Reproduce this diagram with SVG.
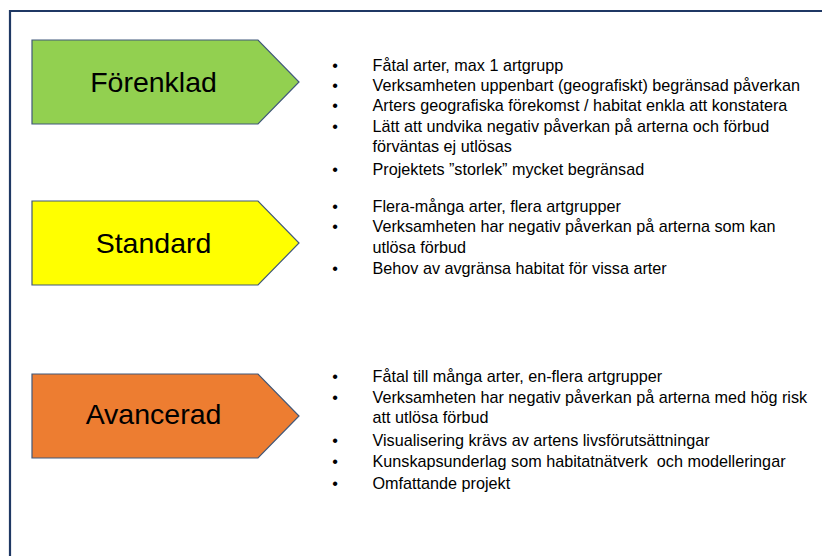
<svg xmlns="http://www.w3.org/2000/svg" width="822" height="556" viewBox="0 0 822 556">
<style>
.frame{fill:none;stroke:#1f3864;stroke-width:2.2}
.arrow{stroke:#41587a;stroke-width:1.2}
.label{font-family:"Liberation Sans",Arial,sans-serif;font-size:28.5px;fill:#000;text-anchor:middle}
.item{font-family:"Liberation Sans",Arial,sans-serif;font-size:16.2px;fill:#000;white-space:pre}
.bul{font-family:"Liberation Sans",Arial,sans-serif;font-size:16.2px;fill:#000;text-anchor:middle}
</style>
<rect width="822" height="556" fill="#fff"/>
<path class="frame" d="M10,560 V11 H830"/>
<g id="forenklad">
<polygon class="arrow" fill="#92d050" points="32,40 258,40 299,82 258,124 32,124"/>
<text class="label" x="153.5" y="92">Förenklad</text>
</g>
<g id="forenklad-list">
<text class="bul" x="335" y="71">•</text><text class="item" x="372.5" y="71">Fåtal arter, max 1 artgrupp</text>
<text class="bul" x="335" y="91">•</text><text class="item" x="372.5" y="91">Verksamheten uppenbart (geografiskt) begränsad påverkan</text>
<text class="bul" x="335" y="111">•</text><text class="item" x="372.5" y="111">Arters geografiska förekomst / habitat enkla att konstatera</text>
<text class="bul" x="335" y="132">•</text><text class="item" x="372.5" y="132">Lätt att undvika negativ påverkan på arterna och förbud</text>
<text class="item" x="372.5" y="152">förväntas ej utlösas</text>
<text class="bul" x="335" y="175">•</text><text class="item" x="372.5" y="175">Projektets ”storlek” mycket begränsad</text>
</g>
<g id="standard">
<polygon class="arrow" fill="#ffff00" points="32,201 258,201 299,243 258,285 32,285"/>
<text class="label" x="153.5" y="253">Standard</text>
</g>
<g id="standard-list">
<text class="bul" x="335" y="212">•</text><text class="item" x="372.5" y="212">Flera-många arter, flera artgrupper</text>
<text class="bul" x="335" y="232">•</text><text class="item" x="372.5" y="232">Verksamheten har negativ påverkan på arterna som kan</text>
<text class="item" x="372.5" y="253">utlösa förbud</text>
<text class="bul" x="335" y="274">•</text><text class="item" x="372.5" y="274">Behov av avgränsa habitat för vissa arter</text>
</g>
<g id="avancerad">
<polygon class="arrow" fill="#ed7d31" points="32,374 258,374 299,416 258,458 32,458"/>
<text class="label" x="153.5" y="424">Avancerad</text>
</g>
<g id="avancerad-list">
<text class="bul" x="335" y="382">•</text><text class="item" x="372.5" y="382">Fåtal till många arter, en-flera artgrupper</text>
<text class="bul" x="335" y="403">•</text><text class="item" x="372.5" y="403">Verksamheten har negativ påverkan på arterna med hög risk</text>
<text class="item" x="372.5" y="423">att utlösa förbud</text>
<text class="bul" x="335" y="446">•</text><text class="item" x="372.5" y="446">Visualisering krävs av artens livsförutsättningar</text>
<text class="bul" x="335" y="467">•</text><text class="item" x="372.5" y="467" xml:space="preserve">Kunskapsunderlag som habitatnätverk  och modelleringar</text>
<text class="bul" x="335" y="489">•</text><text class="item" x="372.5" y="489">Omfattande projekt</text>
</g>
<g id="connectors"/>
</svg>
